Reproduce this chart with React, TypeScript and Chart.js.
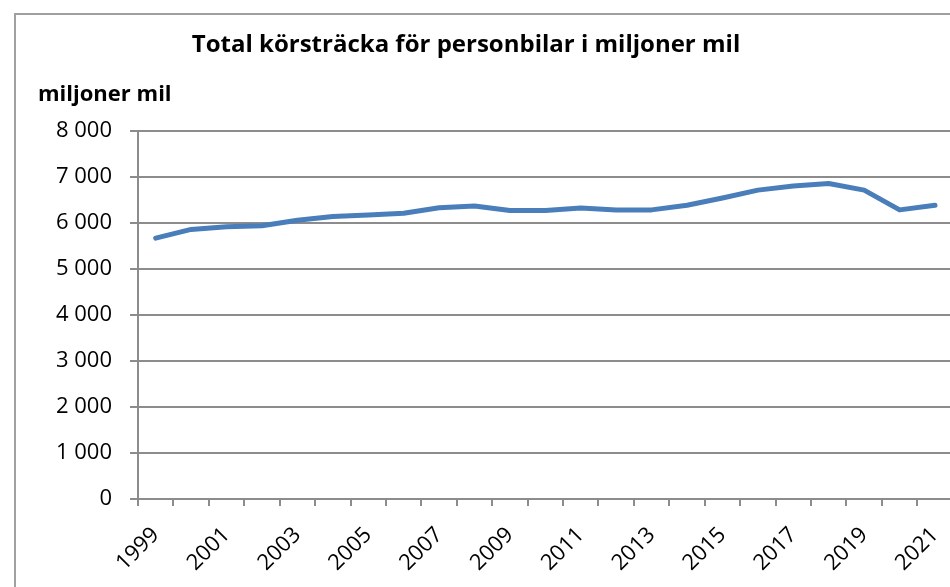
import React, { useEffect, useRef } from "react";
import { Chart, registerables } from "chart.js";

Chart.register(...registerables);

const years: string[] = [
  "1999", "2000", "2001", "2002", "2003", "2004", "2005", "2006", "2007", "2008", "2009", "2010",
  "2011", "2012", "2013", "2014", "2015", "2016", "2017", "2018", "2019", "2020", "2021",
];
const distance: number[] = [
  5670, 5860, 5920, 5940, 6060, 6140, 6175, 6210, 6330, 6370, 6270, 6270,
  6325, 6285, 6285, 6385, 6545, 6715, 6805, 6860, 6715, 6285, 6385,
];
const yMin = 0;
const yMax = 8000;
const yStep = 1000;
const titleText = "Total körsträcka för personbilar i miljoner mil";
const unitText = "miljoner mil";

const FONT = "'Open Sans', 'Liberation Sans', sans-serif";
const CANVAS_W = 970;
const CANVAS_H = 587;

const fmt = (v: number) => String(v).replace(/\B(?=(\d{3})+(?!\d))/g, " ");

const textPlugin = {
  id: "texts",
  afterDraw(chart: any) {
    const ctx = chart.ctx;
    ctx.save();
    ctx.fillStyle = "#000";
    ctx.textBaseline = "middle";
    ctx.textAlign = "center";
    ctx.font = `bold 24px ${FONT}`;
    ctx.fillText(titleText, 466, 45);
    ctx.textAlign = "left";
    ctx.font = `bold 22px ${FONT}`;
    ctx.fillText(unitText, 38, 95);
    ctx.restore();
  },
};

export default function App() {
  const ref = useRef<HTMLCanvasElement | null>(null);
  useEffect(() => {
    if (!ref.current) return;
    const chart = new Chart(ref.current, {
      type: "line",
      data: {
        labels: years,
        datasets: [
          {
            data: distance,
            borderColor: "#4A7EBB",
            borderWidth: 5,
            pointRadius: 0,
            tension: 0,
            borderJoinStyle: "round",
            borderCapStyle: "round",
            fill: false,
          },
        ],
      },
      options: {
        animation: false,
        responsive: false,
        maintainAspectRatio: false,
        layout: { padding: { top: 131, right: 15, bottom: 0, left: 0 } },
        plugins: {
          legend: { display: false },
          title: { display: false },
          tooltip: { enabled: false },
        },
        scales: {
          x: {
            type: "category",
            offset: true,
            afterFit(scale: any) {
              scale.height = 88;
            },
            grid: {
              offset: true,
              drawOnChartArea: false,
              drawTicks: true,
              tickLength: 7,
              color: "#8c8c8c",
              lineWidth: 2,
            },
            border: { display: true, color: "#8c8c8c", width: 2 },
            ticks: {
              autoSkip: false,
              maxRotation: 45,
              minRotation: 45,
              padding: 16,
              color: "#000",
              font: { family: FONT, size: 22 },
              callback: (_v: any, i: number) => (i % 2 === 0 ? years[i] : ""),
            },
          },
          y: {
            min: yMin,
            max: yMax,
            afterFit(scale: any) {
              scale.width = 138;
            },
            grid: {
              color: "#8c8c8c",
              lineWidth: 2,
              tickLength: 8,
              drawTicks: true,
            },
            border: { display: true, color: "#8c8c8c", width: 2 },
            ticks: {
              stepSize: yStep,
              padding: 18,
              color: "#000",
              font: { family: FONT, size: 22 },
              callback: (v: any) => fmt(Number(v)),
            },
          },
        },
      },
      plugins: [textPlugin],
    });
    return () => chart.destroy();
  }, []);

  return (
    <div
      style={{
        position: "fixed",
        left: 0,
        top: 0,
        width: 950,
        height: 587,
        overflow: "hidden",
        background: "#fff",
      }}
    >
      <canvas
        ref={ref}
        width={CANVAS_W}
        height={CANVAS_H}
        style={{ position: "absolute", left: 0, top: 0, width: CANVAS_W, height: CANVAS_H }}
      />
      <div
        style={{
          position: "absolute",
          left: 14,
          top: 13,
          width: 1000,
          height: 700,
          border: "2px solid #a0a0a0",
          pointerEvents: "none",
        }}
      />
    </div>
  );
}
